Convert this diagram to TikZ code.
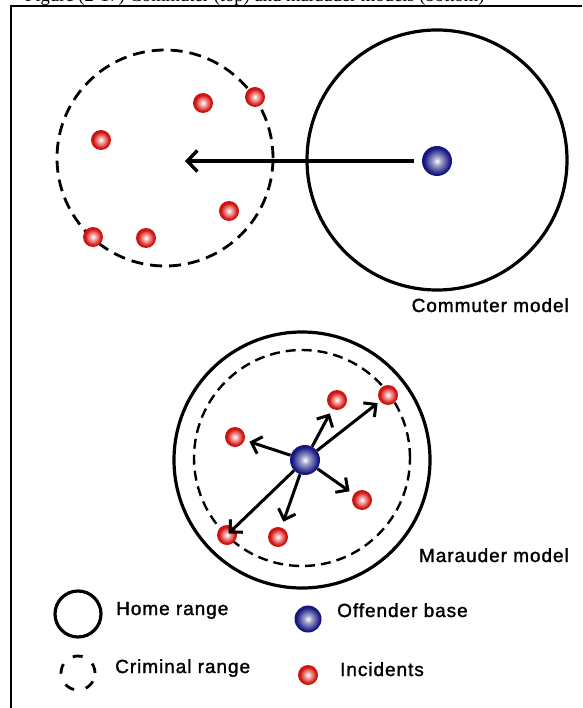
\documentclass[tikz,border=0pt]{standalone}
\usepackage{fontspec}
\setmainfont{Liberation Serif}
\newfontfamily\labelfont[LetterSpace=5, FakeBold=1.5]{Liberation Sans}
\usetikzlibrary{arrows.meta}
\definecolor{incred}{HTML}{D41410}
\definecolor{incdark}{HTML}{6E0402}
\definecolor{basenavy}{HTML}{161680}
\definecolor{basedark}{HTML}{08083C}

% shaded balls for the dots
\pgfdeclareradialshading{incball}{\pgfpoint{0bp}{0bp}}{%
  color(0bp)=(white); color(7bp)=(incred!35!white); color(20bp)=(incred);
  color(40bp)=(incred!80!black); color(50bp)=(incdark)}
\pgfdeclareradialshading{baseball}{\pgfpoint{0bp}{0bp}}{%
  color(0bp)=(white); color(7bp)=(basenavy!40!white); color(22bp)=(basenavy);
  color(42bp)=(basenavy!85!black); color(50bp)=(basedark)}

\begin{document}
\begin{tikzpicture}[
  x=1pt, y=-1pt,
  >={Straight Barb[length=9pt, width=18pt]},
  homerange/.style={black, line width=3.2pt},
  crimerange/.style={black, line width=2.8pt, dash pattern=on 12pt off 7pt},
  incident/.style={circle, inner sep=0pt, minimum size=20pt, shade, shading=incball},
  offender/.style={circle, inner sep=0pt, minimum size=30pt, shade, shading=baseball},
  trip/.style={->, line width=3pt},
  legendtext/.style={anchor=base west, inner sep=0pt,
    font=\labelfont\fontsize{19}{22}\selectfont}
]

% Page and frame
\useasboundingbox (0,0) rectangle (582,708);
\fill[white] (0,0) rectangle (582,708);
\node[anchor=base west, inner sep=0pt, font=\fontsize{18.6}{20}\selectfont]
  (caption) at (25,2) {Figure (2-17) Commuter (top) and marauder models (bottom)};
\draw[line width=2pt] (11,708) -- (11,6) -- (582,6);

% ── Commuter model ──
\draw[crimerange] (165,158) circle (108pt);
\draw[homerange] (437,160) circle (130pt);
\node[offender] (cbase) at (437,161) {};
\coordinate (ccentre) at (185,161);
\draw[trip, line width=3.4pt, shorten <=8pt,
  -{Straight Barb[length=10pt, width=21pt]}] (cbase) -- (ccentre);
\foreach \pos [count=\i] in {(203,103),(255,97),(101,140),(229,211),(93,237),(146,238)}
  \node[incident] (c\i) at \pos {};
\node[legendtext, anchor=base east] (commuterlbl) at (569,312) {Commuter model};

% ── Marauder model ──
\draw[homerange] (302,460) circle (128pt);
\draw[crimerange, line width=2.4pt, dash pattern=on 10pt off 6pt] (302,458) circle (108pt);
\node[offender] (mbase) at (305,460) {};
\foreach \pos [count=\i] in {(235,437),(337,400),(388,395),(362,500),(278,537),(227,535)}
  \node[incident] (m\i) at \pos {};
\foreach \t/\s in {m1/5pt, m2/5pt, m3/3pt, m4/5pt, m5/6pt, m6/-8pt}
  \draw[trip, shorten >=\s] (mbase) -- (\t);
\node[legendtext, anchor=base east] (marauderlbl) at (569,562) {Marauder model};

% ── Legend ──
\draw[homerange] (78,614) circle (23pt);
\node[legendtext] (homelbl) at (116,615) {Home range};
\draw[crimerange, dash pattern=on 10pt off 12pt] (78,673) circle (17pt);
\node[legendtext] (crimelbl) at (115,673) {Criminal range};
\node[offender, minimum size=27pt] (keybase) at (308,619) {};
\node[legendtext] (baselbl) at (337,617) {Offender base};
\node[incident] (keyinc) at (308,675) {};
\node[legendtext] (inclbl) at (340,676) {Incidents};

\end{tikzpicture}
\end{document}
